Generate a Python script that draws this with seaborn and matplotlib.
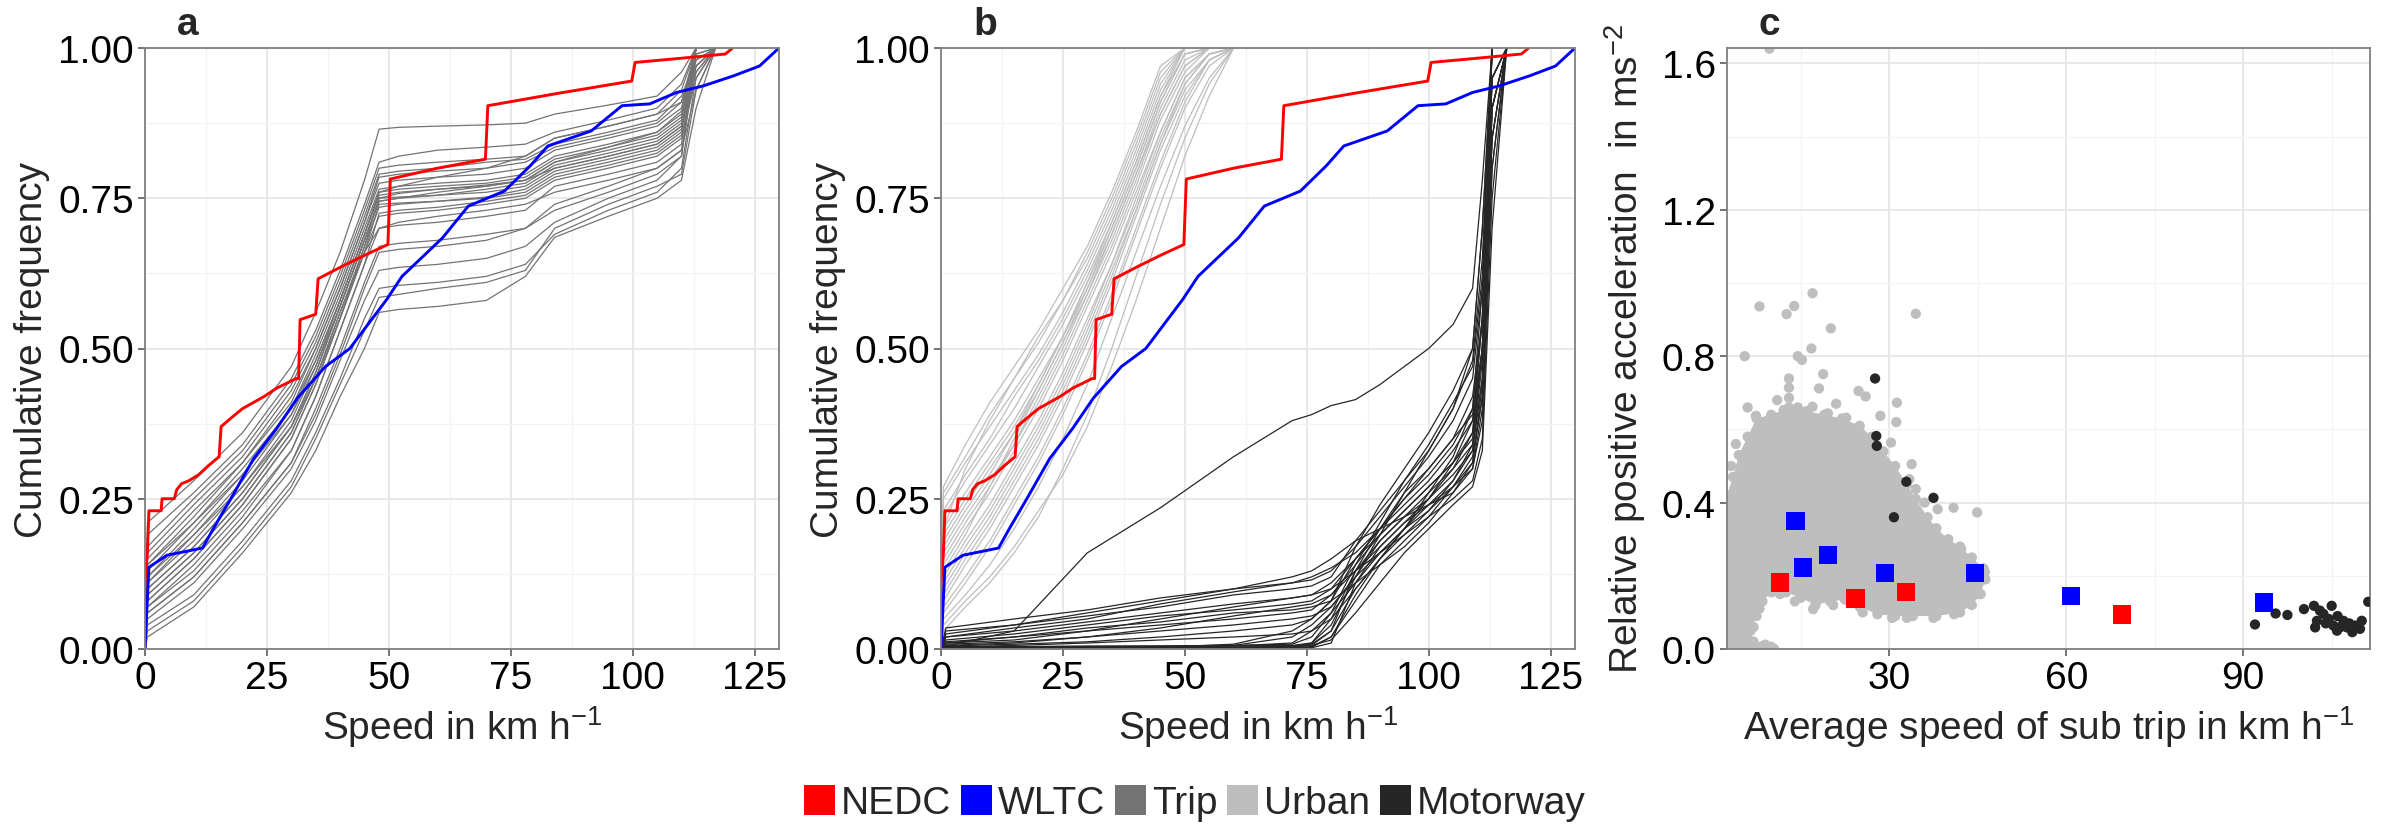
import numpy as np
import pandas as pd
import matplotlib
matplotlib.use("Agg")
import matplotlib.pyplot as plt
from matplotlib.patches import Patch
from matplotlib.ticker import MultipleLocator, FormatStrFormatter
import seaborn as sns

# ------------------------------------------------------------------ data
# Panel a / b : test cycles (speed in km/h, cumulative frequency)
nedc_speed = [0, 0, 0.5, 0.8, 3.3, 3.5, 6.0, 6.5, 7.5, 9.0, 11.0, 13.0, 15.2, 15.6, 17.6, 20.0,
              24.4, 27.0, 31.0, 31.5, 31.8, 35.0, 35.5, 40.0, 45.0, 49.8, 50.3, 60.0, 69.8, 70.3,
              85.0, 99.8, 100.5, 110.0, 119.0, 120.5]
nedc_cdf = [0, 0.11, 0.16, 0.23, 0.23, 0.25, 0.25, 0.265, 0.275, 0.28, 0.29, 0.305, 0.32, 0.37, 0.384, 0.40,
            0.42, 0.434, 0.45, 0.45, 0.548, 0.557, 0.616, 0.635, 0.655, 0.673, 0.782, 0.80, 0.815, 0.904,
            0.925, 0.945, 0.976, 0.983, 0.99, 1.0]
wltc_speed = [0, 0.8, 4.5, 11.8, 14.0, 17.6, 22.3, 27.0, 31.2, 37.0, 42.0, 49.6, 52.7, 61.0, 66.3,
              73.7, 79.0, 82.6, 91.5, 97.8, 103.5, 109.0, 114.5, 120.8, 126.0, 130.0]
wltc_cdf = [0, 0.136, 0.156, 0.168, 0.20, 0.25, 0.317, 0.367, 0.417, 0.47, 0.50, 0.582, 0.62, 0.684, 0.737,
            0.762, 0.804, 0.837, 0.862, 0.904, 0.907, 0.926, 0.937, 0.954, 0.97, 1.0]

# Panel a : individual trips (cdf at a shared speed grid)
trip_speed_grid = [0, 0.5, 10, 20, 30, 35, 40, 45, 48, 52, 60, 70, 78, 84, 95, 105, 110, 113, 117]
trip_cdf = [
    [0, 0.21, 0.28, 0.36, 0.47, 0.56, 0.66, 0.78, 0.865, 0.868, 0.87, 0.872, 0.875, 0.89, 0.905, 0.92, 0.96, 1.0, 1.0],
    [0, 0.19, 0.26, 0.34, 0.45, 0.53, 0.63, 0.74, 0.81, 0.82, 0.83, 0.835, 0.84, 0.86, 0.88, 0.90, 0.94, 1.0, 1.0],
    [0, 0.17, 0.25, 0.33, 0.44, 0.52, 0.62, 0.73, 0.80, 0.805, 0.81, 0.815, 0.82, 0.85, 0.87, 0.89, 0.93, 1.0, 1.0],
    [0, 0.16, 0.24, 0.32, 0.43, 0.51, 0.61, 0.72, 0.79, 0.795, 0.80, 0.81, 0.815, 0.84, 0.86, 0.88, 0.92, 0.98, 1.0],
    [0, 0.15, 0.23, 0.31, 0.42, 0.50, 0.60, 0.71, 0.785, 0.79, 0.795, 0.80, 0.81, 0.835, 0.855, 0.875, 0.91, 0.99, 1.0],
    [0, 0.14, 0.22, 0.31, 0.41, 0.50, 0.60, 0.71, 0.775, 0.78, 0.785, 0.79, 0.80, 0.83, 0.85, 0.87, 0.90, 1.0, 1.0],
    [0, 0.14, 0.21, 0.29, 0.39, 0.47, 0.57, 0.68, 0.745, 0.75, 0.76, 0.77, 0.78, 0.81, 0.835, 0.86, 0.895, 1.0, 1.0],
    [0, 0.13, 0.21, 0.30, 0.40, 0.48, 0.58, 0.69, 0.76, 0.77, 0.785, 0.80, 0.82, 0.85, 0.87, 0.89, 0.91, 1.0, 1.0],
    [0, 0.12, 0.20, 0.29, 0.40, 0.49, 0.59, 0.70, 0.765, 0.77, 0.775, 0.78, 0.79, 0.82, 0.84, 0.86, 0.89, 0.97, 1.0],
    [0, 0.12, 0.19, 0.27, 0.37, 0.45, 0.55, 0.67, 0.75, 0.758, 0.765, 0.772, 0.78, 0.80, 0.82, 0.84, 0.87, 0.98, 1.0],
    [0, 0.11, 0.19, 0.28, 0.39, 0.48, 0.58, 0.69, 0.76, 0.765, 0.77, 0.775, 0.785, 0.815, 0.835, 0.855, 0.885, 1.0, 1.0],
    [0, 0.11, 0.18, 0.27, 0.38, 0.47, 0.58, 0.69, 0.755, 0.76, 0.765, 0.77, 0.78, 0.81, 0.83, 0.85, 0.88, 1.0, 1.0],
    [0, 0.10, 0.17, 0.26, 0.37, 0.46, 0.57, 0.68, 0.75, 0.752, 0.755, 0.765, 0.775, 0.805, 0.825, 0.845, 0.875, 0.97, 1.0],
    [0, 0.10, 0.17, 0.26, 0.37, 0.46, 0.57, 0.68, 0.745, 0.75, 0.755, 0.76, 0.77, 0.80, 0.82, 0.84, 0.87, 0.96, 1.0],
    [0, 0.09, 0.16, 0.25, 0.36, 0.45, 0.56, 0.67, 0.735, 0.74, 0.745, 0.75, 0.76, 0.79, 0.81, 0.83, 0.86, 1.0, 1.0],
    [0, 0.09, 0.16, 0.25, 0.36, 0.45, 0.56, 0.66, 0.70, 0.71, 0.72, 0.73, 0.74, 0.76, 0.78, 0.80, 0.83, 0.93, 1.0],
    [0, 0.08, 0.15, 0.24, 0.35, 0.44, 0.55, 0.66, 0.74, 0.742, 0.745, 0.752, 0.765, 0.795, 0.815, 0.835, 0.865, 1.0, 1.0],
    [0, 0.08, 0.15, 0.24, 0.35, 0.44, 0.55, 0.66, 0.72, 0.725, 0.73, 0.74, 0.75, 0.78, 0.80, 0.82, 0.85, 0.95, 1.0],
    [0, 0.07, 0.14, 0.23, 0.33, 0.42, 0.53, 0.64, 0.70, 0.705, 0.71, 0.72, 0.73, 0.77, 0.79, 0.81, 0.84, 1.0, 1.0],
    [0, 0.07, 0.13, 0.22, 0.33, 0.42, 0.53, 0.64, 0.725, 0.73, 0.735, 0.745, 0.755, 0.785, 0.805, 0.825, 0.855, 0.96, 1.0],
    [0, 0.06, 0.12, 0.21, 0.31, 0.40, 0.50, 0.61, 0.67, 0.675, 0.68, 0.69, 0.70, 0.74, 0.77, 0.80, 0.83, 0.97, 1.0],
    [0, 0.06, 0.12, 0.21, 0.31, 0.39, 0.49, 0.60, 0.66, 0.665, 0.67, 0.68, 0.70, 0.73, 0.76, 0.79, 0.82, 0.99, 1.0],
    [0, 0.05, 0.11, 0.20, 0.30, 0.38, 0.48, 0.58, 0.63, 0.635, 0.64, 0.65, 0.67, 0.71, 0.75, 0.78, 0.82, 1.0, 1.0],
    [0, 0.04, 0.09, 0.18, 0.28, 0.36, 0.45, 0.55, 0.60, 0.605, 0.61, 0.62, 0.64, 0.69, 0.73, 0.76, 0.80, 0.95, 1.0],
    [0, 0.03, 0.08, 0.17, 0.27, 0.35, 0.44, 0.53, 0.585, 0.59, 0.60, 0.61, 0.63, 0.70, 0.74, 0.77, 0.79, 0.93, 1.0],
    [0, 0.02, 0.07, 0.16, 0.26, 0.33, 0.42, 0.50, 0.56, 0.565, 0.57, 0.58, 0.62, 0.685, 0.72, 0.75, 0.78, 0.90, 1.0],
]

# Panel b : urban parts of trips
urban_speed_grid = [0, 0.5, 5, 10, 15, 20, 25, 30, 35, 40, 45, 50, 55, 60]
urban_cdf = [
    [0, 0.27, 0.34, 0.41, 0.47, 0.53, 0.60, 0.67, 0.76, 0.86, 0.97, 1.0, 1.0, 1.0],
    [0, 0.26, 0.32, 0.39, 0.45, 0.51, 0.58, 0.66, 0.75, 0.85, 0.96, 1.0, 1.0, 1.0],
    [0, 0.25, 0.31, 0.37, 0.43, 0.49, 0.56, 0.64, 0.73, 0.83, 0.94, 1.0, 1.0, 1.0],
    [0, 0.23, 0.29, 0.35, 0.42, 0.48, 0.55, 0.63, 0.72, 0.82, 0.93, 1.0, 1.0, 1.0],
    [0, 0.22, 0.28, 0.34, 0.40, 0.47, 0.54, 0.62, 0.71, 0.81, 0.92, 0.99, 1.0, 1.0],
    [0, 0.20, 0.30, 0.38, 0.45, 0.52, 0.58, 0.65, 0.74, 0.84, 0.95, 1.0, 1.0, 1.0],
    [0, 0.20, 0.26, 0.32, 0.38, 0.45, 0.52, 0.60, 0.69, 0.79, 0.90, 0.98, 1.0, 1.0],
    [0, 0.19, 0.25, 0.31, 0.37, 0.44, 0.52, 0.61, 0.70, 0.80, 0.91, 0.99, 1.0, 1.0],
    [0, 0.18, 0.24, 0.30, 0.36, 0.43, 0.51, 0.59, 0.68, 0.78, 0.89, 0.97, 1.0, 1.0],
    [0, 0.17, 0.23, 0.29, 0.36, 0.44, 0.52, 0.61, 0.71, 0.81, 0.92, 1.0, 1.0, 1.0],
    [0, 0.16, 0.22, 0.28, 0.34, 0.41, 0.49, 0.58, 0.67, 0.77, 0.88, 0.96, 1.0, 1.0],
    [0, 0.15, 0.21, 0.27, 0.34, 0.42, 0.50, 0.59, 0.69, 0.79, 0.89, 0.97, 1.0, 1.0],
    [0, 0.14, 0.20, 0.26, 0.33, 0.40, 0.48, 0.57, 0.66, 0.76, 0.86, 0.95, 0.99, 1.0],
    [0, 0.13, 0.19, 0.27, 0.35, 0.43, 0.51, 0.60, 0.70, 0.80, 0.91, 0.99, 1.0, 1.0],
    [0, 0.12, 0.18, 0.24, 0.31, 0.38, 0.46, 0.55, 0.64, 0.74, 0.85, 0.94, 0.99, 1.0],
    [0, 0.11, 0.17, 0.23, 0.30, 0.37, 0.45, 0.54, 0.64, 0.75, 0.86, 0.95, 0.99, 1.0],
    [0, 0.10, 0.16, 0.22, 0.29, 0.36, 0.44, 0.53, 0.63, 0.73, 0.84, 0.93, 0.98, 1.0],
    [0, 0.09, 0.15, 0.21, 0.28, 0.35, 0.43, 0.52, 0.62, 0.73, 0.84, 0.94, 0.99, 1.0],
    [0, 0.08, 0.14, 0.20, 0.27, 0.34, 0.42, 0.51, 0.61, 0.72, 0.83, 0.92, 0.98, 1.0],
    [0, 0.07, 0.12, 0.18, 0.25, 0.32, 0.40, 0.49, 0.59, 0.70, 0.81, 0.91, 0.98, 1.0],
    [0, 0.06, 0.11, 0.17, 0.24, 0.31, 0.39, 0.48, 0.58, 0.69, 0.80, 0.90, 0.97, 1.0],
    [0, 0.05, 0.09, 0.14, 0.20, 0.27, 0.35, 0.44, 0.55, 0.66, 0.77, 0.87, 0.95, 1.0],
    [0, 0.04, 0.08, 0.12, 0.17, 0.23, 0.29, 0.37, 0.47, 0.58, 0.70, 0.82, 0.92, 1.0],
    [0, 0.03, 0.07, 0.11, 0.16, 0.22, 0.30, 0.39, 0.50, 0.62, 0.74, 0.85, 0.94, 1.0],
]

# Panel b : motorway parts of trips
motorway_speed_grid = [0, 1, 15, 30, 45, 60, 72, 76, 80, 85, 90, 95, 100, 105, 109, 111, 113, 116]
motorway_cdf = [
    [0, 0.005, 0.03, 0.16, 0.235, 0.32, 0.38, 0.39, 0.405, 0.415, 0.44, 0.47, 0.50, 0.54, 0.60, 0.78, 1.0, 1.0],
    [0, 0.035, 0.05, 0.065, 0.085, 0.10, 0.11, 0.115, 0.13, 0.17, 0.22, 0.27, 0.32, 0.38, 0.45, 0.60, 1.0, 1.0],
    [0, 0.03, 0.04, 0.055, 0.07, 0.09, 0.10, 0.105, 0.12, 0.18, 0.23, 0.28, 0.33, 0.40, 0.50, 0.70, 1.0, 1.0],
    [0, 0.025, 0.04, 0.06, 0.08, 0.10, 0.12, 0.13, 0.15, 0.18, 0.20, 0.22, 0.24, 0.26, 0.30, 0.40, 0.80, 1.0],
    [0, 0.02, 0.035, 0.05, 0.075, 0.095, 0.11, 0.12, 0.135, 0.16, 0.20, 0.24, 0.28, 0.33, 0.38, 0.50, 0.90, 1.0],
    [0, 0.02, 0.03, 0.045, 0.06, 0.075, 0.085, 0.09, 0.11, 0.15, 0.19, 0.23, 0.27, 0.31, 0.35, 0.50, 0.90, 1.0],
    [0, 0.015, 0.025, 0.04, 0.055, 0.065, 0.075, 0.08, 0.10, 0.15, 0.20, 0.25, 0.30, 0.35, 0.42, 0.55, 0.95, 1.0],
    [0, 0.012, 0.02, 0.03, 0.04, 0.05, 0.06, 0.065, 0.09, 0.13, 0.16, 0.19, 0.22, 0.25, 0.28, 0.35, 0.75, 1.0],
    [0, 0.01, 0.015, 0.03, 0.05, 0.07, 0.085, 0.09, 0.10, 0.13, 0.17, 0.21, 0.25, 0.30, 0.34, 0.45, 0.85, 1.0],
    [0, 0.01, 0.02, 0.035, 0.045, 0.06, 0.065, 0.07, 0.08, 0.11, 0.14, 0.17, 0.21, 0.26, 0.31, 0.44, 0.85, 1.0],
    [0, 0.008, 0.012, 0.02, 0.03, 0.04, 0.05, 0.055, 0.07, 0.12, 0.19, 0.26, 0.33, 0.40, 0.48, 0.65, 1.0, 1.0],
    [0, 0.006, 0.01, 0.02, 0.035, 0.055, 0.07, 0.075, 0.09, 0.14, 0.21, 0.28, 0.34, 0.41, 0.47, 0.62, 1.0, 1.0],
    [0, 0.005, 0.008, 0.012, 0.02, 0.03, 0.04, 0.05, 0.08, 0.15, 0.20, 0.25, 0.29, 0.34, 0.40, 0.55, 0.95, 1.0],
    [0, 0.004, 0.004, 0.005, 0.005, 0.006, 0.008, 0.02, 0.06, 0.14, 0.19, 0.23, 0.27, 0.31, 0.36, 0.50, 1.0, 1.0],
    [0, 0.003, 0.006, 0.01, 0.015, 0.02, 0.025, 0.03, 0.05, 0.10, 0.15, 0.19, 0.23, 0.28, 0.33, 0.48, 0.95, 1.0],
    [0, 0.003, 0.003, 0.003, 0.004, 0.005, 0.006, 0.01, 0.05, 0.13, 0.18, 0.22, 0.25, 0.29, 0.33, 0.45, 0.90, 1.0],
    [0, 0.002, 0.002, 0.002, 0.003, 0.003, 0.004, 0.006, 0.03, 0.10, 0.15, 0.20, 0.24, 0.28, 0.34, 0.50, 1.0, 1.0],
    [0, 0.002, 0.003, 0.004, 0.005, 0.006, 0.02, 0.04, 0.07, 0.12, 0.16, 0.20, 0.26, 0.32, 0.40, 0.60, 1.0, 1.0],
    [0, 0.001, 0.002, 0.003, 0.004, 0.005, 0.01, 0.03, 0.06, 0.11, 0.16, 0.20, 0.23, 0.27, 0.31, 0.42, 0.90, 1.0],
    [0, 0.001, 0.001, 0.002, 0.003, 0.008, 0.03, 0.05, 0.08, 0.17, 0.24, 0.30, 0.36, 0.43, 0.50, 0.70, 1.0, 1.0],
    [0, 0.0, 0.0, 0.001, 0.002, 0.003, 0.005, 0.008, 0.03, 0.13, 0.20, 0.26, 0.30, 0.35, 0.39, 0.50, 0.95, 1.0],
    [0, 0.0, 0.0, 0.0, 0.001, 0.002, 0.004, 0.01, 0.04, 0.12, 0.18, 0.22, 0.26, 0.30, 0.36, 0.55, 1.0, 1.0],
    [0, 0.0, 0.0, 0.0, 0.0, 0.0, 0.002, 0.004, 0.02, 0.08, 0.14, 0.18, 0.22, 0.27, 0.32, 0.42, 0.85, 1.0],
    [0, 0.0, 0.0, 0.0, 0.0, 0.0, 0.001, 0.003, 0.02, 0.09, 0.15, 0.20, 0.25, 0.31, 0.38, 0.55, 1.0, 1.0],
    [0, 0.0, 0.0, 0.0, 0.0, 0.0, 0.0, 0.002, 0.01, 0.11, 0.17, 0.21, 0.24, 0.27, 0.30, 0.38, 0.80, 1.0],
    [0, 0.0, 0.0, 0.0, 0.0, 0.001, 0.003, 0.006, 0.015, 0.06, 0.11, 0.16, 0.20, 0.24, 0.27, 0.33, 0.70, 1.0],
]

# Panel c : sub trips (average speed km/h, relative positive acceleration m/s^2)
nedc_sub_speed = [11.5, 24.3, 32.8, 69.5]
nedc_sub_rpa = [0.182, 0.138, 0.156, 0.094]
wltc_sub_speed = [14.1, 15.4, 19.6, 29.3, 44.5, 60.8, 93.5]
wltc_sub_rpa = [0.349, 0.223, 0.257, 0.207, 0.207, 0.144, 0.127]

# dense core of the urban sub-trip cloud (outline of the overlapping points)
urban_cloud_speed = [2.5, 2.5, 3.5, 4.5, 6.0, 7.5, 10.0, 13.0, 16.0, 19.0, 22.0, 25.0, 27.0, 29.0,
                     31.0, 33.0, 34.5, 36.5, 38.0, 40.0, 42.0, 44.0, 46.0, 46.3, 45.5, 44.0, 42.0,
                     38.0, 34.0, 31.0, 28.0, 25.0, 22.5, 20.0, 17.5, 15.0, 12.5, 10.0, 8.5, 7.5,
                     6.5, 7.0, 9.0, 10.5]
urban_cloud_rpa = [0.0, 0.42, 0.47, 0.53, 0.58, 0.63, 0.64, 0.66, 0.65, 0.64, 0.63, 0.61, 0.58, 0.54,
                   0.50, 0.45, 0.41, 0.36, 0.33, 0.30, 0.28, 0.25, 0.22, 0.19, 0.15, 0.12, 0.10,
                   0.09, 0.09, 0.09, 0.095, 0.115, 0.135, 0.13, 0.12, 0.14, 0.155, 0.155, 0.13, 0.09,
                   0.05, 0.02, 0.012, 0.0]
# individually visible urban sub trips
urban_sub_speed = [9.7, 5.5, 8.0, 12.6, 13.9, 17.0, 20.1, 34.5, 14.5, 15.2, 16.8, 13.0, 13.0, 13.0,
                   18.8, 18.1, 24.8, 26.0, 31.3, 17.0, 19.6, 12.1, 14.5, 7.4, 9.9, 22.7, 28.5, 21.0,
                   11.0, 31.2, 30.3, 33.8, 33.4, 34.5, 34.2, 38.2, 40.9, 44.9, 39.6, 42.2, 46.2, 17.1,
                   44.8, 4.0, 3.2, 6.0, 36.0, 3.0, 30.5, 25.5, 33.0, 37.5, 41.0, 20.5, 14.0, 11.5,
                   8.0, 7.0, 6.6, 8.5, 10.0, 4.0]
urban_sub_rpa = [1.64, 0.80, 0.936, 0.915, 0.937, 0.972, 0.876, 0.916, 0.80, 0.79, 0.821, 0.739, 0.714, 0.686,
                 0.751, 0.712, 0.705, 0.69, 0.673, 0.662, 0.644, 0.653, 0.66, 0.637, 0.633, 0.632, 0.637, 0.67,
                 0.68, 0.62, 0.564, 0.505, 0.464, 0.437, 0.382, 0.382, 0.386, 0.373, 0.286, 0.273, 0.21, 0.109,
                 0.15, 0.56, 0.50, 0.66, 0.40, 0.30, 0.085, 0.10, 0.085, 0.085, 0.095, 0.12, 0.13, 0.15,
                 0.11, 0.06, 0.02, 0.008, 0.006, 0.005]
motorway_sub_speed = [27.6, 27.8, 27.9, 32.9, 37.5, 30.8, 92.0, 95.5, 97.5, 100.3, 102.0, 105.0, 103.6,
                      102.5, 102.2, 104.5, 105.3, 105.9, 107.0, 107.6, 108.5, 109.0, 110.1, 109.8, 111.2,
                      106.4, 104.0, 106.0, 108.0, 103.0]
motorway_sub_rpa = [0.739, 0.582, 0.555, 0.457, 0.413, 0.36, 0.067, 0.097, 0.093, 0.109, 0.118, 0.118, 0.096,
                    0.077, 0.059, 0.082, 0.064, 0.05, 0.077, 0.059, 0.046, 0.064, 0.077, 0.055, 0.129,
                    0.059, 0.07, 0.09, 0.07, 0.105]

legend_labels = ["NEDC", "WLTC", "Trip", "Urban", "Motorway"]

# ------------------------------------------------------------------ style
COL = {"NEDC": "#FF0000", "WLTC": "#0000FF", "Trip": "#737373",
       "Urban": "#BEBEBE", "Motorway": "#262626"}

sns.set_theme(style="white")
plt.rcParams["font.family"] = ["Liberation Sans", "DejaVu Sans"]
plt.rcParams["mathtext.fontset"] = "custom"
plt.rcParams["mathtext.rm"] = "Liberation Sans"
plt.rcParams["mathtext.it"] = "Liberation Sans:italic"
plt.rcParams["mathtext.bf"] = "Liberation Sans:bold"
plt.rcParams["axes.unicode_minus"] = True

FS = 28
W, H = 2382, 829
fig = plt.figure(figsize=(W / 100, H / 100), dpi=100)


def frac_box(left, right, top, bottom):
    return [left / W, 1 - bottom / H, (right - left) / W, (bottom - top) / H]


ax_a = fig.add_axes(frac_box(145, 779, 49, 650))
ax_b = fig.add_axes(frac_box(941, 1575, 49, 650))
ax_c = fig.add_axes(frac_box(1727, 2370, 49, 650))


def curves_frame(grid, matrix):
    rows = []
    for i, ys in enumerate(matrix):
        for x, y in zip(grid, ys):
            rows.append((i, x, y))
            if y >= 1.0:
                break
    return pd.DataFrame(rows, columns=["curve", "speed", "cdf"])


cycles = pd.concat([
    pd.DataFrame({"cycle": "NEDC", "speed": nedc_speed, "cdf": nedc_cdf}),
    pd.DataFrame({"cycle": "WLTC", "speed": wltc_speed, "cdf": wltc_cdf}),
], ignore_index=True)


def style_axes(ax):
    for s in ax.spines.values():
        s.set_visible(True)
        s.set_color("#7F7F7F")
        s.set_linewidth(1.3)
    ax.set_axisbelow(True)
    ax.grid(which="major", color="#E6E6E6", linewidth=1.3)
    ax.grid(which="minor", color="#F3F3F3", linewidth=0.9)
    ax.tick_params(which="major", length=5, width=1.1, color="#4D4D4D",
                   labelsize=FS, pad=3, labelcolor="black")
    ax.tick_params(which="minor", length=0)
    ax.tick_params(axis="both", bottom=True, left=True)


def cdf_axes(ax):
    ax.set_xlim(0, 130)
    ax.set_ylim(0, 1)
    ax.xaxis.set_major_locator(MultipleLocator(25))
    ax.xaxis.set_minor_locator(MultipleLocator(12.5))
    ax.yaxis.set_major_locator(MultipleLocator(0.25))
    ax.yaxis.set_minor_locator(MultipleLocator(0.125))
    ax.yaxis.set_major_formatter(FormatStrFormatter("%.2f"))
    ax.set_xlabel(r"Speed in km h$^{-1}$", fontsize=FS, labelpad=5)
    ax.set_ylabel("Cumulative frequency", fontsize=FS, labelpad=6)
    style_axes(ax)


# ---- panel a
sns.lineplot(data=curves_frame(trip_speed_grid, trip_cdf), x="speed", y="cdf", units="curve",
             estimator=None, sort=False, color=COL["Trip"], linewidth=0.9, ax=ax_a, legend=False)
sns.lineplot(data=cycles, x="speed", y="cdf", hue="cycle", palette=COL, estimator=None,
             sort=False, linewidth=2.1, ax=ax_a, legend=False)
cdf_axes(ax_a)

# ---- panel b
sns.lineplot(data=curves_frame(urban_speed_grid, urban_cdf), x="speed", y="cdf", units="curve",
             estimator=None, sort=False, color=COL["Urban"], linewidth=0.9, ax=ax_b, legend=False)
sns.lineplot(data=curves_frame(motorway_speed_grid, motorway_cdf), x="speed", y="cdf", units="curve",
             estimator=None, sort=False, color=COL["Motorway"], linewidth=0.9, ax=ax_b, legend=False)
sns.lineplot(data=cycles, x="speed", y="cdf", hue="cycle", palette=COL, estimator=None,
             sort=False, linewidth=2.1, ax=ax_b, legend=False)
cdf_axes(ax_b)

# ---- panel c
ax_c.fill(urban_cloud_speed, urban_cloud_rpa, color=COL["Urban"], linewidth=0, zorder=1)
sns.scatterplot(x=urban_cloud_speed, y=urban_cloud_rpa, color=COL["Urban"], s=55,
                edgecolor="none", ax=ax_c, zorder=2)
sns.scatterplot(x=urban_sub_speed, y=urban_sub_rpa, color=COL["Urban"], s=55,
                edgecolor="none", ax=ax_c, zorder=2)
sns.scatterplot(x=motorway_sub_speed, y=motorway_sub_rpa, color=COL["Motorway"], s=55,
                edgecolor="none", ax=ax_c, zorder=3)
sns.scatterplot(x=nedc_sub_speed, y=nedc_sub_rpa, color=COL["NEDC"], marker="s", s=175,
                edgecolor="none", ax=ax_c, zorder=4)
sns.scatterplot(x=wltc_sub_speed, y=wltc_sub_rpa, color=COL["WLTC"], marker="s", s=175,
                edgecolor="none", ax=ax_c, zorder=4)
ax_c.set_xlim(2.5, 111.5)
ax_c.set_ylim(0, 1.642)
ax_c.xaxis.set_major_locator(MultipleLocator(30))
ax_c.xaxis.set_minor_locator(MultipleLocator(15))
ax_c.yaxis.set_major_locator(MultipleLocator(0.4))
ax_c.yaxis.set_minor_locator(MultipleLocator(0.2))
ax_c.yaxis.set_major_formatter(FormatStrFormatter("%.1f"))
ax_c.set_xlabel(r"Average speed of sub trip in km h$^{-1}$", fontsize=FS, labelpad=5)
ax_c.set_ylabel(r"Relative positive acceleration  in ms$^{-2}$", fontsize=FS, labelpad=10)
style_axes(ax_c)

# ---- panel letters
for letter, left in (("a", 145), ("b", 941), ("c", 1727)):
    fig.text((left + 32) / W, 1 - 35 / H, letter, fontsize=FS, fontweight="bold",
             ha="left", va="baseline")

# ---- legend
handles = [Patch(facecolor=COL[k], edgecolor="none") for k in legend_labels]
fig.legend(handles, legend_labels, loc="center", bbox_to_anchor=(1195 / W, 1 - 804 / H),
           ncol=5, frameon=False, fontsize=FS, handlelength=0.8, handleheight=0.8,
           handletextpad=0.15, columnspacing=0.25, borderpad=0, borderaxespad=0)

fig.savefig("out.png", dpi=100)
